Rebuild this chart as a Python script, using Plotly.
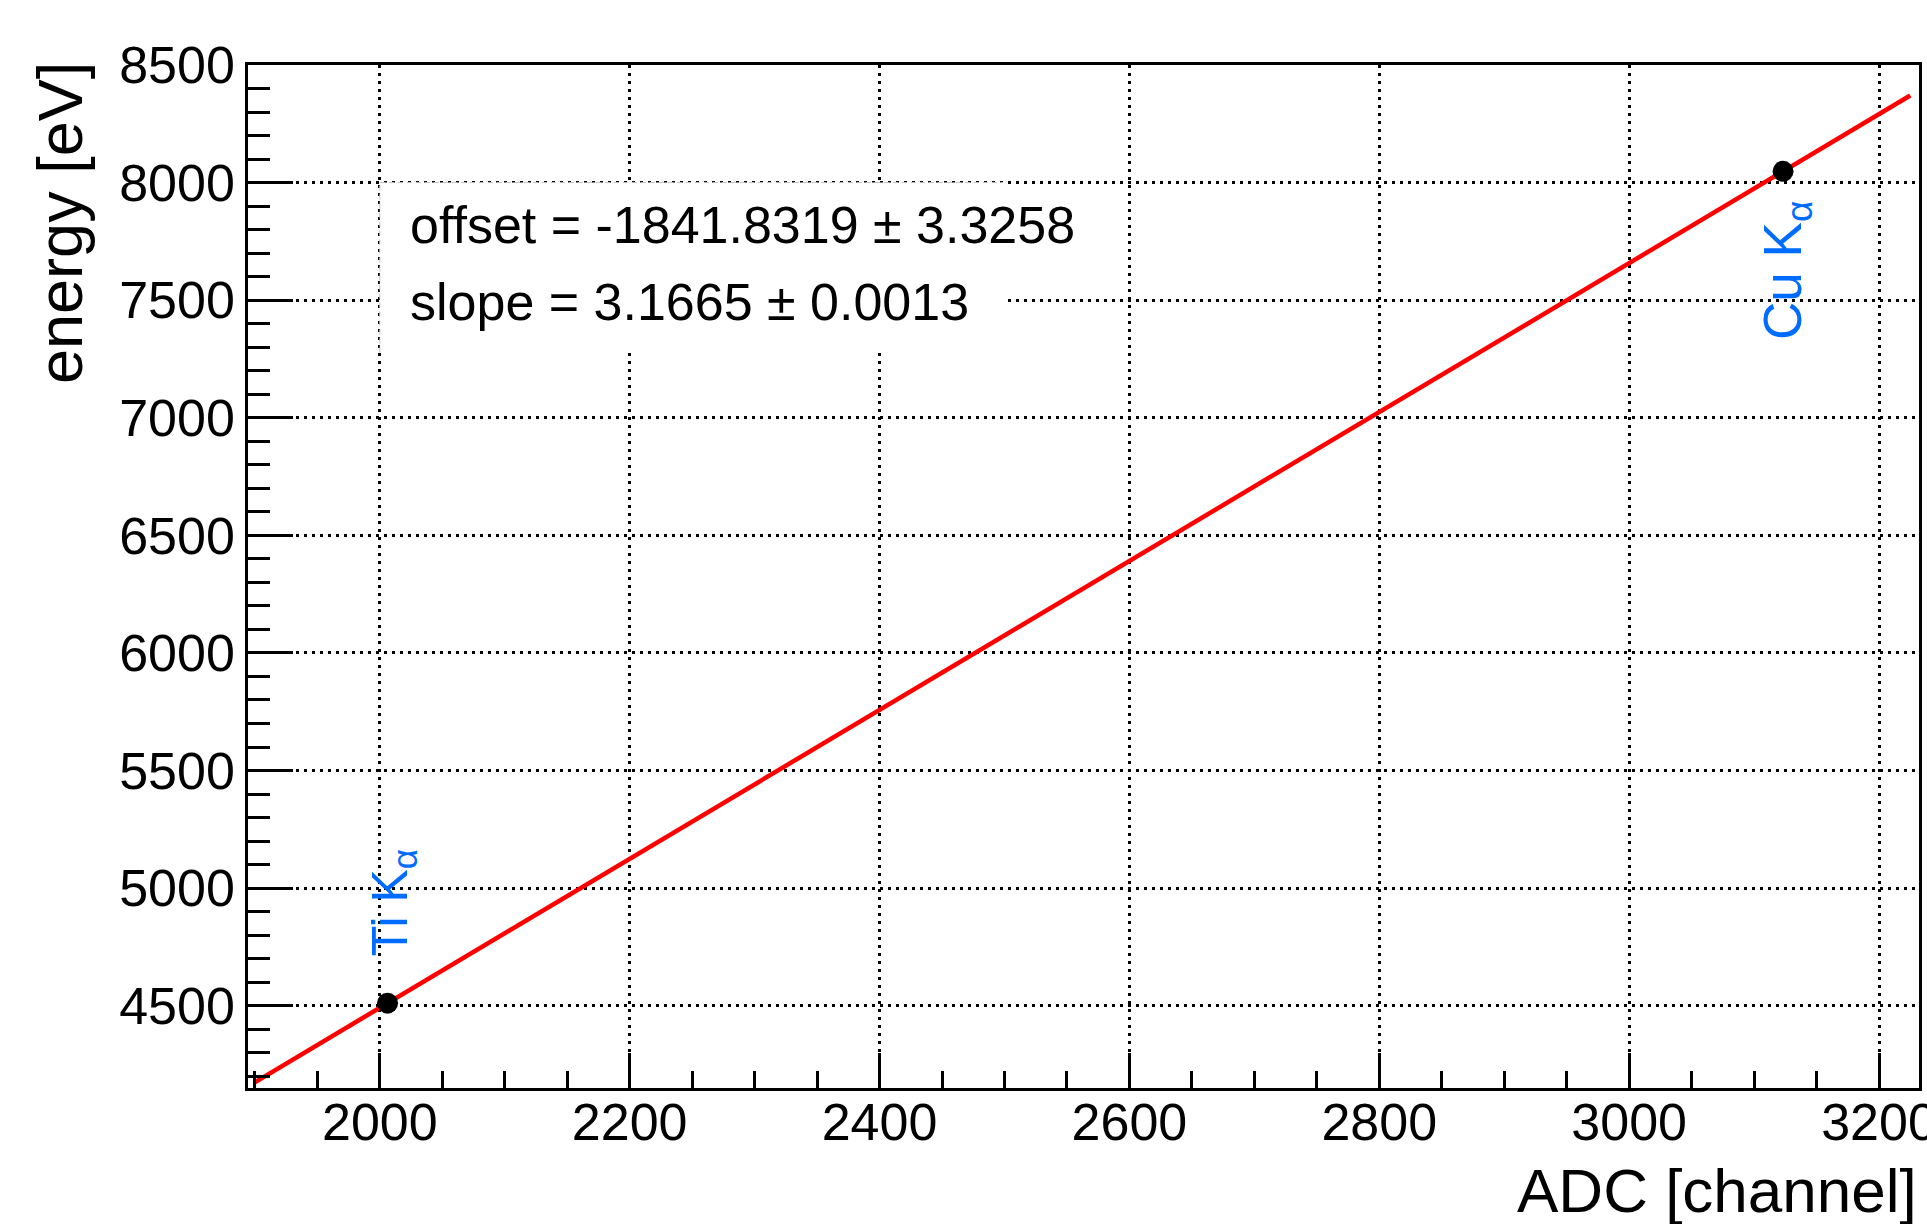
import plotly.graph_objects as go

# ---- data ----
calib_lines = ["Ti K<sub>α</sub>", "Cu K<sub>α</sub>"]
adc_channel = [2006.2, 3123.2]
energy_ev = [4510.84, 8047.78]

fit_offset = -1841.8319
fit_offset_err = 3.3258
fit_slope = 3.1665
fit_slope_err = 0.0013
fit_range = [1900, 3225]
fit_energy = [fit_offset + fit_slope * x for x in fit_range]

x_range = [1894.5, 3232]
y_range = [4150, 8500]

FONT = "Liberation Sans, Arial, Helvetica, sans-serif"
BLUE = "rgb(0,108,255)"

fig = go.Figure()

fig.add_trace(go.Scatter(
    x=fit_range, y=fit_energy, mode="lines",
    line=dict(color="rgb(255,0,0)", width=4.5),
    showlegend=False, hoverinfo="skip"))

fig.add_trace(go.Scatter(
    x=adc_channel, y=energy_ev, mode="markers",
    marker=dict(color="black", size=21, symbol="circle"),
    showlegend=False))

# white statistics box covering grid
fig.add_shape(type="rect", xref="x", yref="y", x0=2000, x1=2499, y0=7277, y1=8000,
              fillcolor="white", line=dict(width=0), layer="between")
fig.add_shape(type="line", xref="x", yref="y", x0=2000, x1=2499, y0=8000, y1=8000,
              line=dict(color="rgb(190,190,190)", width=1, dash="5px,4px"), layer="between")
fig.add_shape(type="line", xref="x", yref="y", x0=2000, x1=2000, y0=7277, y1=8000,
              line=dict(color="rgb(190,190,190)", width=1, dash="5px,4px"), layer="between")

fig.add_annotation(xref="paper", yref="paper", x=0.0957, y=0.8436, xanchor="left", yanchor="middle",
                   text=f"offset = {fit_offset:.4f} ± {fit_offset_err:.4f}", showarrow=False,
                   font=dict(family=FONT, size=52, color="black"))
fig.add_annotation(xref="paper", yref="paper", x=0.0957, y=0.7683, xanchor="left", yanchor="middle",
                   text=f"slope = {fit_slope:.4f} ± {fit_slope_err:.4f}", showarrow=False,
                   font=dict(family=FONT, size=52, color="black"))

# line labels
fig.add_annotation(x=adc_channel[0], y=energy_ev[0], xref="x", yref="y", text=calib_lines[0],
                   textangle=-90, showarrow=False, xanchor="center", yanchor="bottom",
                   xshift=6, yshift=45, font=dict(family=FONT, size=50, color=BLUE))
fig.add_annotation(x=adc_channel[1], y=energy_ev[1], xref="x", yref="y", text=calib_lines[1],
                   textangle=-90, showarrow=False, xanchor="center", yanchor="top",
                   xshift=4, yshift=-28, font=dict(family=FONT, size=53, color=BLUE))

# axis titles (ROOT style: right/top aligned)
fig.add_annotation(xref="paper", yref="paper", x=1, y=0, xanchor="right", yanchor="top",
                   xshift=0, yshift=-66, text="ADC [channel]", showarrow=False,
                   font=dict(family=FONT, size=62, color="black"))
fig.add_annotation(xref="paper", yref="paper", x=0, y=1, xanchor="center", yanchor="top",
                   xshift=-188, yshift=5, text="energy [eV]", textangle=-90, showarrow=False,
                   font=dict(family=FONT, size=63, color="black"))

grid_dash = "3px,5px"
fig.update_xaxes(
    range=x_range, tick0=0, dtick=200, ticks="inside", ticklen=35, tickwidth=2.5, tickcolor="black",
    showline=True, linecolor="black", linewidth=2.5, mirror=True,
    showgrid=True, gridcolor="black", gridwidth=2.5, griddash=grid_dash, zeroline=False,
    tickfont=dict(family=FONT, size=52, color="black"), ticklabelstandoff=-13,
    ticklabeloverflow="allow", automargin=False,
    minor=dict(dtick=50, tick0=0, ticks="inside", ticklen=17, tickwidth=2.5, tickcolor="black", showgrid=False),
)
fig.update_yaxes(
    range=y_range, tick0=0, dtick=500, ticks="inside", ticklen=45, tickwidth=2.5, tickcolor="black",
    showline=True, linecolor="black", linewidth=2.5, mirror=True,
    showgrid=True, gridcolor="black", gridwidth=2.5, griddash=grid_dash, zeroline=False,
    tickfont=dict(family=FONT, size=52, color="black"), ticklabelstandoff=0,
    ticklabeloverflow="allow", automargin=False,
    minor=dict(dtick=100, tick0=0, ticks="inside", ticklen=22, tickwidth=2.5, tickcolor="black", showgrid=False),
)

fig.update_layout(
    width=1927, height=1224,
    margin=dict(l=248, r=8, t=65, b=136, pad=0),
    plot_bgcolor="white", paper_bgcolor="white",
    font=dict(family=FONT, color="black"),
    showlegend=False,
)

fig.write_html(
    "out.html",
    config={"displayModeBar": False},
    post_script="document.body.style.margin='0';document.body.style.padding='0';document.body.style.overflow='hidden';",
)
